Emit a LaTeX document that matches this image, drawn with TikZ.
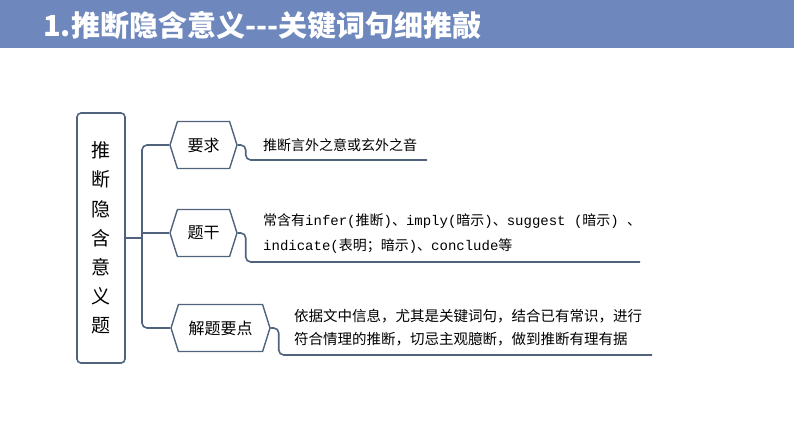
\documentclass[tikz,border=0pt]{standalone}
\usepackage{fontspec}
\newfontfamily\cjk{Noto Sans CJK SC}
\newfontfamily\en{Liberation Mono}
\usetikzlibrary{shapes.symbols}
\definecolor{bandblue}{HTML}{6E88BE}
\definecolor{linegray}{HTML}{4F637C}
\newcommand{\lat}[1]{{\en #1}}
\begin{document}
\begin{tikzpicture}[
            x=1pt, y=-1pt,
            every node/.style={font=\cjk, inner sep=0pt},
            rootbox/.style={draw=linegray, line width=1.6pt, rounded corners=4pt, minimum width=48pt, minimum height=250pt},
            hexbox/.style={signal, signal to=east and west, signal pointer angle=145, draw=linegray, line width=1.4pt, minimum height=47pt, font=\cjk\fontsize{16}{16}\selectfont},
            branch/.style={draw=linegray, line width=1.6pt, rounded corners=5pt},
            note/.style={anchor=west, align=left, font=\cjk\fontsize{14}{25}\selectfont}
            ]
            \useasboundingbox (0,0) rectangle (794,447);
            \fill[bandblue] (0,0) rectangle (794,48);
            \node[anchor=west, text=white, font=\cjk\bfseries\fontsize{29}{29}\selectfont] (title) at (43,25) {1.推断隐含意义---关键词句细推敲};
            % root
            \node[rootbox, align=center, font=\cjk\fontsize{19}{29.2}\selectfont] (root) at (101,238) {推\\断\\隐\\含\\意\\义\\题};
            % branches
            \node[hexbox, minimum width=67pt] (req) at (203.5,145) {要求};
            \node[hexbox, minimum width=67pt] (stem) at (203.5,233) {题干};
            \node[hexbox, minimum width=99pt] (tip) at (220.5,328) {解题要点};
            \coordinate (bus) at (142,238);
            \draw[branch] (root.east) -- (bus);
            \draw[branch] (bus) |- (req.west);
            \draw[branch] (bus) |- (tip.west);
            \draw[branch] (142,233) -- (stem.west);
            % notes
            \coordinate (reqend) at (427,160);
            \coordinate (stemend) at (640,262);
            \coordinate (tipend) at (652,355);
            \draw[branch] (req.east) -- ++(8,0) |- (reqend);
            \draw[branch] (stem.east) -- ++(8,0) |- (stemend);
            \draw[branch] (tip.east) -- ++(8,0) |- (tipend);
            \node[note] (reqtxt) at (263,145) {推断言外之意或玄外之音};
            \node[note] (stemtxt) at (263,234) {常含有\lat{infer(}推断\lat{)}、\lat{imply(}暗示\lat{)}、\lat{suggest (}暗示\lat{) }、\\\lat{indicate(}表明；暗示\lat{)}、\lat{conclude}等};
            \node[note, font=\cjk\fontsize{14.5}{23}\selectfont] (tiptxt) at (294,328) {依据文中信息，尤其是关键词句，结合已有常识，进行\\符合情理的推断，切忌主观臆断，做到推断有理有据};
        \end{tikzpicture}
\end{document}
